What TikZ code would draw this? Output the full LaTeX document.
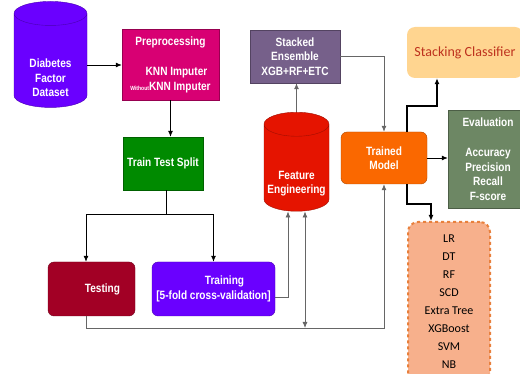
\documentclass[tikz,border=0pt]{standalone}
\usepackage{fontspec}
\setmainfont{Liberation Sans}[FakeStretch=0.84]
\newfontfamily\calib{Carlito}
\usetikzlibrary{shapes.geometric,arrows.meta}

\definecolor{cData}{HTML}{6A00FF}
\definecolor{cPre}{HTML}{D80073}
\definecolor{cSplit}{HTML}{008A00}
\definecolor{cTest}{HTML}{A20025}
\definecolor{cFeat}{HTML}{E51400}
\definecolor{cStack}{HTML}{76608A}
\definecolor{cModel}{HTML}{FA6800}
\definecolor{cEval}{HTML}{6D8764}
\definecolor{cClass}{HTML}{FFD590}
\definecolor{cClassText}{HTML}{BE321E}
\definecolor{cList}{HTML}{F7B08C}
\definecolor{cListLine}{HTML}{E8803C}
\definecolor{cLink}{HTML}{666666}

\begin{document}
\begin{tikzpicture}[x = 1pt, y = -1pt, >={Latex[length=6pt,width=5pt]},
	boxtext/.style = {text = white, align = center, font = \bfseries\fontsize{12}{14.5}\selectfont},
	box/.style = {boxtext, draw = #1!70!black, fill = #1, inner sep = 2pt},
	db/.style = {draw = #1!70!black, fill = #1, cylinder, shape border rotate = 90,
		inner sep = 12pt, aspect = 1},
	link/.style = {->, cLink, thick}]
	\useasboundingbox (0,0) rectangle (520,374);
	\clip (0,0) rectangle (520,374);
	
	\node[db = cData, minimum width = 73, minimum height = 106,
		label = {[boxtext, yshift = -13pt]center:Diabetes\\Factor\\Dataset}](data) at (50.5,65) {};
	\node[box = cPre, minimum width = 97, minimum height = 71](pre) at (170.5,64.5)
		{Preprocessing\\[16pt]\hspace*{12pt}KNN Imputer\\{\fontsize{6}{7}\selectfont Without}KNN Imputer};
	\node[box = cSplit, minimum width = 80, minimum height = 53](split) at (163,163.5)
		{Train Test Split};
	\node[box = cTest, rounded corners = 6pt, minimum width = 87, minimum height = 54](test) at (91.5,289)
		{\hspace*{22pt}Testing};
	\node[box = cData, rounded corners = 6pt, minimum width = 123, minimum height = 54](train) at (213.5,289)
		{\hspace*{22pt}Training\\{[5-fold cross-validation]}};
	\node[db = cFeat, minimum width = 65, minimum height = 99,
		label = {[boxtext, yshift = -11pt]center:Feature\\Engineering}](feat) at (296.5,172.5) {};
	\node[box = cStack, minimum width = 90, minimum height = 53](stack) at (295,56.5)
		{Stacked\\Ensemble\\XGB+RF+ETC};
	\node[box = cModel, rounded corners = 6pt, minimum width = 86, minimum height = 52](model) at (384,158)
		{Trained\\Model};
	\node[fill = cClass, rounded corners = 8pt, text = cClassText,
		font = \calib\fontsize{14}{17}\selectfont, minimum width = 116, minimum height = 51](class) at (465,52.5)
		{Stacking Classifier};
	\node[box = cEval, minimum width = 80, minimum height = 98](eval) at (488,159)
		{Evaluation\\[16pt]Accuracy\\Precision\\Recall\\F-score};
	\node[fill = cList, draw = cListLine, dashed, line width = 2pt, rounded corners = 10pt, align = center,
		font = \calib\fontsize{12}{18}\selectfont, minimum width = 82, minimum height = 160](list) at (449,302)
		{LR\\DT\\RF\\SCD\\Extra Tree\\XGBoost\\SVM\\NB};
	
	\coordinate[](fork) at (166,214);
	\coordinate[](base) at (0,328);
	
	\draw[->, thick] (data.east) -- (data.east -| pre.west);
	\draw[->, thick] (pre.south) -- (pre.south |- split.north);
	\draw[thick] (split.south -| fork) -- (fork);
	\draw[->, thick] (fork) -| ([xshift = -5.5]test.north);
	\draw[->, thick] (fork) -| (train.north);
	\draw[link] ([yshift = -8]train.east) -| ([xshift = -8.5]feat.south);
	\draw[link, <->] ([xshift = 8.5]feat.south) -- ([xshift = 8.5]feat.south |- base);
	\draw[link] ([xshift = -5.5]test.south) |- (base -| model.south) -- (model.south);
	\draw[link] (feat.north) -- (feat.north |- stack.south);
	\draw[link] (stack.east) -| (model.north);
	\draw[->, black, line width = 1.6pt] ([xshift = 23]model.north) -- ++(0,-26)
		-| ([xshift = -28]class.south);
	\draw[->, black, line width = 1.6pt] ([xshift = 23]model.south) -- ++(0,20)
		-| ([xshift = -18]list.north);
	\draw[->, thick] (model.east) -- (model.east -| eval.west);
	
\end{tikzpicture}
\end{document}
